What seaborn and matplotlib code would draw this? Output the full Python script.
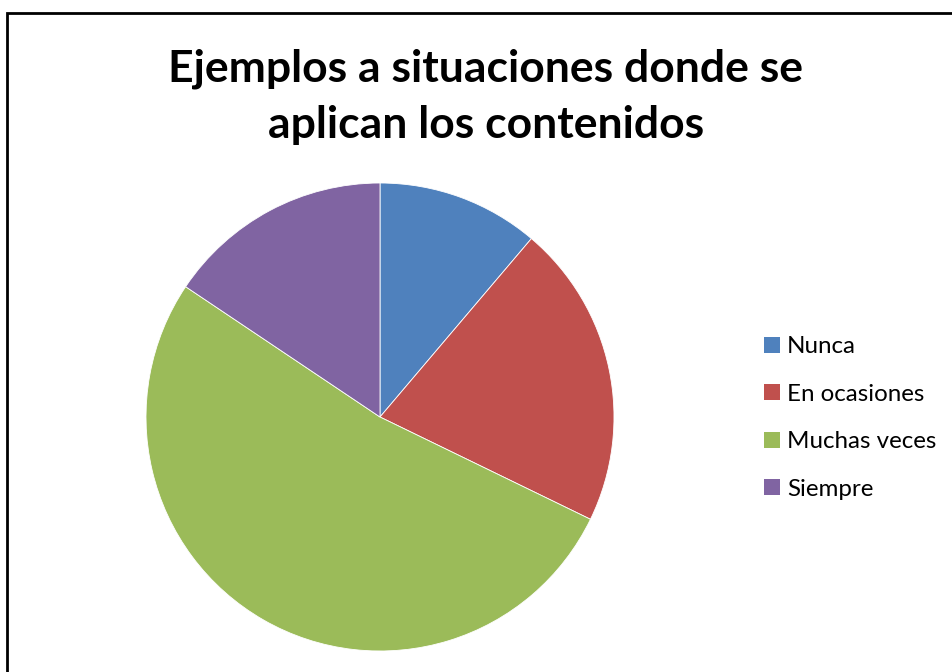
import matplotlib
matplotlib.use("Agg")
import matplotlib.pyplot as plt
import matplotlib.patches as mpatches
import seaborn as sns

# data (percent of answers)
categorias = ["Nunca", "En ocasiones", "Muchas veces", "Siempre"]
valores = [11.2, 21.0, 52.2, 15.6]
colores = ["#4F81BD", "#C0504D", "#9BBB59", "#8064A2"]
titulo = "Ejemplos a situaciones donde se\naplican los contenidos"

sns.set_theme(style="white")
plt.rcParams["font.family"] = ["Lato", "DejaVu Sans"]
plt.rcParams["text.color"] = "black"

W, H = 953, 672
fig = plt.figure(figsize=(W / 100, H / 100), dpi=100)

# chart border (runs past right/bottom edge like the screenshot)
fig.patches.append(mpatches.Rectangle((6.5 / W, -0.05), 1.1, 1 - 12.5 / H + 0.05,
                                      transform=fig.transFigure, fill=False,
                                      edgecolor="black", linewidth=2))

# pie centred at (380, 417) px, radius 234 px
cx, cy, r = 380, 417, 234
ax = fig.add_axes([(cx - r) / W, (H - cy - r) / H, 2 * r / W, 2 * r / H])
wedges, _ = ax.pie(valores, colors=colores, startangle=90, counterclock=False,
                   radius=1, wedgeprops=dict(edgecolor="white", linewidth=0.6))
ax.set_xlim(-1, 1)
ax.set_ylim(-1, 1)
ax.set_aspect("equal")
ax.axis("off")

fig.text(486 / W, 1 - 97 / H, titulo, ha="center", va="center", color="black",
         fontsize=32, fontweight="bold", linespacing=1.48)

handles = [mpatches.Patch(facecolor=c, edgecolor="none") for c in colores]
fig.legend(handles, categorias, loc="center left",
           bbox_to_anchor=(764 / W, 1 - 418 / H), frameon=False,
           fontsize=17.4, handlelength=0.65, handleheight=0.65,
           handletextpad=0.3, labelspacing=1.1, borderaxespad=0,
           borderpad=0, labelcolor="black")

fig.savefig("out.png", dpi=100, facecolor="white")
